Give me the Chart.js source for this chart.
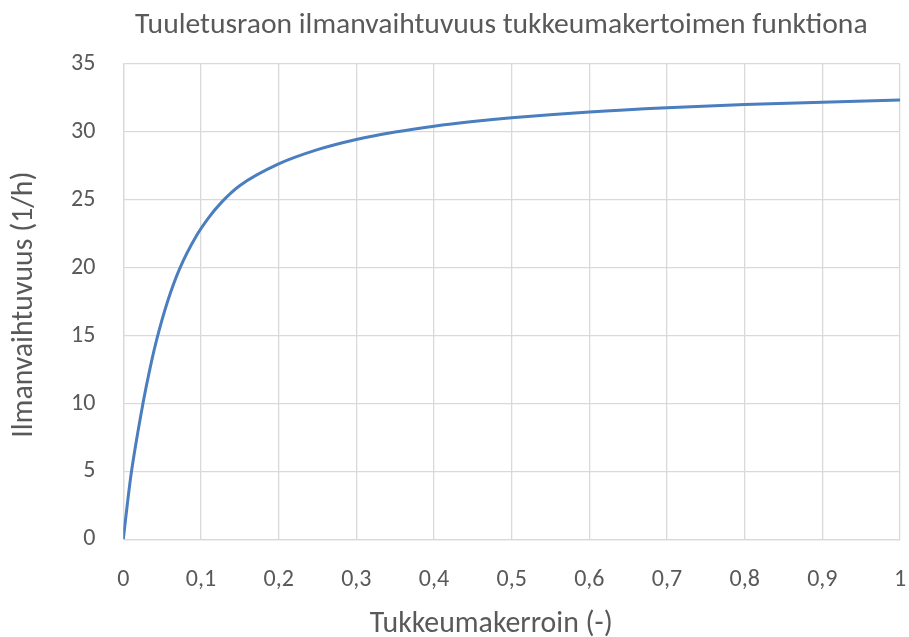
<!DOCTYPE html>
<html>
<head>
<meta charset="utf-8">
<script src="https://cdn.jsdelivr.net/npm/chart.js@4/dist/chart.umd.min.js"></script>
<style>
  html, body { margin: 0; padding: 0; background: #ffffff; }
  #wrap { width: 909px; height: 637px; }
</style>
</head>
<body>
<div id="wrap"><canvas id="chart" width="909" height="637"></canvas></div>
<script>
// Air change rate of the ventilation gap vs. blockage coefficient
const chartTitle = 'Tuuletusraon ilmanvaihtuvuus tukkeumakertoimen funktiona';
const xTitle = 'Tukkeumakerroin (-)';
const yTitle = 'Ilmanvaihtuvuus (1/h)';

const blockage = [0, 0.0052, 0.0103, 0.0254, 0.034, 0.0438, 0.0567, 0.0726, 0.0949, 0.109,
                  0.1267, 0.1502, 0.2, 0.25, 0.3, 0.35, 0.4, 0.45, 0.5, 0.6,
                  0.7, 0.8, 0.9, 1.0];
const airChange = [0, 2.6, 4.9, 10.03, 12.48, 14.88, 17.46, 19.93, 22.42, 23.62,
                   24.83, 26.05, 27.64, 28.69, 29.44, 29.99, 30.42, 30.76, 31.04, 31.47,
                   31.78, 32.01, 32.19, 32.34];

const xTickLabels = ['0', '0,1', '0,2', '0,3', '0,4', '0,5', '0,6', '0,7', '0,8', '0,9', '1'];
const yTickLabels = ['0', '5', '10', '15', '20', '25', '30', '35'];

const FONT = 'Carlito, "Liberation Sans Narrow", Lato, sans-serif';
const TEXT = '#595959';
const GRID = '#d9d9d9';

// Titles drawn around the plot area
const titlesPlugin = {
  id: 'titles',
  afterDraw(chart) {
    const { ctx, chartArea: a } = chart;
    ctx.save();
    ctx.fillStyle = TEXT;
    ctx.textAlign = 'center';
    ctx.textBaseline = 'alphabetic';
    ctx.font = '29.6px ' + FONT;
    ctx.fillText(chartTitle, a.left + 378, 32.5);
    ctx.font = '29.8px ' + FONT;
    ctx.fillText(xTitle, a.left + 368, 631.5);
    ctx.translate(32, (a.top + a.bottom) / 2 + 3);
    ctx.rotate(-Math.PI / 2);
    ctx.fillText(yTitle, 0, 0);
    ctx.restore();
  }
};

new Chart(document.getElementById('chart'), {
  type: 'scatter',
  data: {
    datasets: [{
      data: blockage.map((x, i) => ({ x, y: airChange[i] })),
      showLine: true,
      borderColor: '#4a7ebf',
      borderWidth: 3,
      pointRadius: 0,
      pointHoverRadius: 0,
      cubicInterpolationMode: 'monotone',
      fill: false
    }]
  },
  options: {
    responsive: false,
    animation: false,
    devicePixelRatio: 1,
    layout: { padding: { top: 64, right: 0, bottom: 0, left: 0 } },
    plugins: {
      legend: { display: false },
      title: { display: false },
      tooltip: { enabled: false }
    },
    scales: {
      x: {
        type: 'linear',
        min: 0,
        max: 1,
        afterFit(scale) {
          scale.height = 97.7;
          scale.paddingLeft = 0;
          scale.paddingRight = 9;
        },
        afterBuildTicks(scale) {
          scale.ticks = xTickLabels.map((_, i) => ({ value: i / 10 }));
        },
        ticks: {
          color: TEXT,
          font: { family: FONT, size: 24 },
          padding: 26,
          maxRotation: 0,
          autoSkip: false,
          callback: (v, i) => xTickLabels[i]
        },
        grid: { color: GRID, lineWidth: 1.3, drawTicks: false },
        border: { color: GRID, width: 1.3 }
      },
      y: {
        type: 'linear',
        min: 0,
        max: 35,
        afterFit(scale) { scale.width = 123.3; },
        afterBuildTicks(scale) {
          scale.ticks = yTickLabels.map(t => ({ value: Number(t) }));
        },
        ticks: {
          color: TEXT,
          font: { family: FONT, size: 24 },
          padding: 28,
          autoSkip: false,
          callback: (v, i) => yTickLabels[i]
        },
        grid: { color: GRID, lineWidth: 1.3, drawTicks: false },
        border: { color: GRID, width: 1.3 }
      }
    }
  },
  plugins: [titlesPlugin]
});
</script>
</body>
</html>
